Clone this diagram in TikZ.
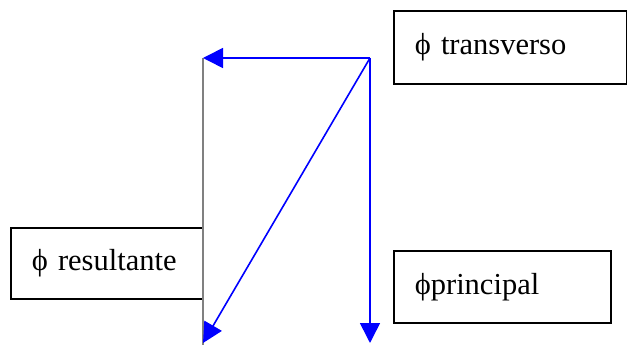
\documentclass[tikz,border=0pt]{standalone}
\usepackage{fontspec}
\setmainfont{Liberation Serif}
\usetikzlibrary{arrows.meta}
\tikzset{
  labelbox/.style={draw=black, line width=1.6pt, rectangle, anchor=north west,
    inner ysep=0pt, inner xsep=21pt, align=left, font=\fontsize{30.5}{33}\selectfont},
  vec/.style={draw=blue, line width=1.6pt, -{Triangle[length=20pt,width=20pt]}},
  guide/.style={draw=gray, line width=1.3pt}
}
\begin{document}
\begin{tikzpicture}[x=1pt,y=-1pt]
\useasboundingbox (0,0) rectangle (627,345);
\node[labelbox, minimum width=233pt, minimum height=73pt, text width=191pt] (trans) at (393,10) {ϕ transverso};
\node[labelbox, minimum width=192pt, minimum height=71pt, text width=150pt] (res) at (10,227) {ϕ resultante};
\node[labelbox, minimum width=217pt, minimum height=72pt, text width=175pt] (prin) at (393,250) {ϕprincipal};
\coordinate (o) at (370,58);
\coordinate (l) at (203,58);
\coordinate (lb) at (203,345);
\coordinate (d) at (370,343);
\coordinate (r) at (203,343);
\draw[guide] (l) -- (lb);
\draw[vec] (o) -- (l);
\draw[vec] (o) -- (d);
\draw[vec] (o) -- (r);
\end{tikzpicture}
\end{document}
